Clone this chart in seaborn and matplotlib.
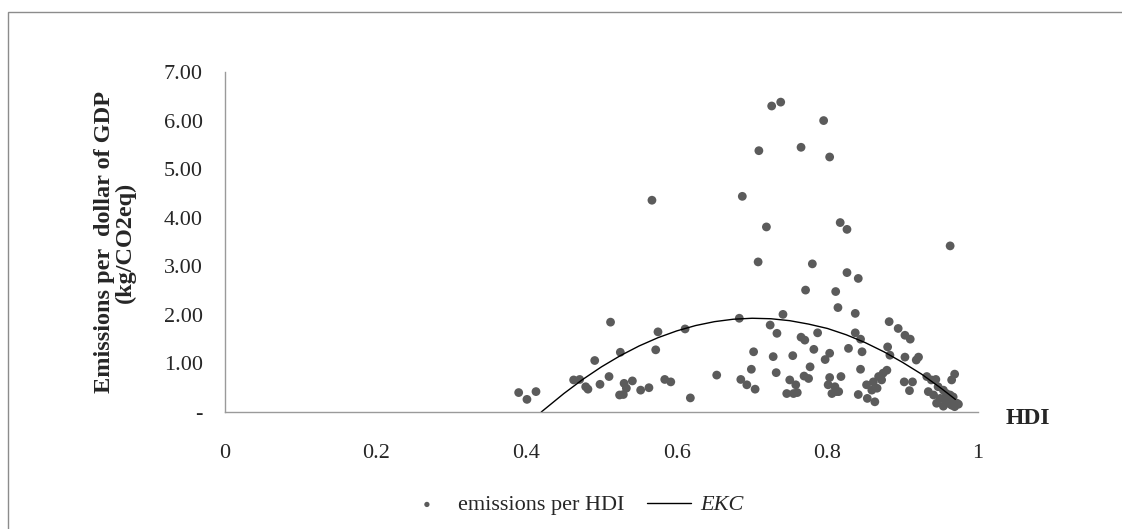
import matplotlib
matplotlib.use("Agg")
import matplotlib.pyplot as plt
from matplotlib.patches import Rectangle
import pandas as pd
import seaborn as sns

# --- data ---
hdi = [0.390, 0.401, 0.413, 0.463, 0.471, 0.479, 0.482, 0.491, 0.498, 0.510,
       0.512, 0.524, 0.525, 0.529, 0.530, 0.533, 0.541, 0.552, 0.563, 0.567,
       0.572, 0.575, 0.584, 0.592, 0.611, 0.618, 0.653, 0.683, 0.685, 0.687,
       0.693, 0.699, 0.702, 0.704, 0.708, 0.709, 0.719, 0.724, 0.726, 0.728,
       0.732, 0.733, 0.738, 0.741, 0.746, 0.750, 0.754, 0.755, 0.758, 0.760,
       0.765, 0.765, 0.769, 0.770, 0.771, 0.775, 0.777, 0.780, 0.782, 0.787,
       0.795, 0.797, 0.801, 0.803, 0.803, 0.803, 0.806, 0.810, 0.812, 0.811,
       0.814, 0.815, 0.817, 0.818, 0.826, 0.826, 0.828, 0.837, 0.837, 0.841,
       0.841, 0.844, 0.844, 0.846, 0.852, 0.853, 0.859, 0.861, 0.863, 0.866,
       0.868, 0.872, 0.874, 0.879, 0.880, 0.882, 0.883, 0.894, 0.902, 0.903,
       0.903, 0.909, 0.910, 0.913, 0.918, 0.921, 0.932, 0.934, 0.938, 0.941,
       0.944, 0.945, 0.947, 0.950, 0.954, 0.954, 0.956, 0.958, 0.961, 0.963,
       0.963, 0.965, 0.965, 0.967, 0.969, 0.969, 0.972, 0.974]
emissions = [0.40, 0.26, 0.42, 0.66, 0.67, 0.52, 0.47, 1.06, 0.57, 0.73,
             1.85, 0.35, 1.23, 0.36, 0.59, 0.49, 0.64, 0.45, 0.50, 4.36,
             1.28, 1.65, 0.67, 0.62, 1.71, 0.29, 0.76, 1.93, 0.67, 4.44,
             0.56, 0.88, 1.24, 0.47, 3.09, 5.38, 3.81, 1.79, 6.30, 1.14,
             0.81, 1.62, 6.38, 2.01, 0.38, 0.66, 1.16, 0.38, 0.56, 0.40,
             5.45, 1.54, 0.74, 1.48, 2.51, 0.69, 0.93, 3.05, 1.29, 1.63,
             6.00, 1.08, 0.56, 5.25, 1.21, 0.71, 0.38, 0.52, 0.42, 2.48,
             2.15, 0.42, 3.90, 0.73, 3.76, 2.87, 1.31, 2.03, 1.63, 2.75,
             0.36, 1.50, 0.88, 1.24, 0.56, 0.28, 0.45, 0.62, 0.21, 0.49,
             0.73, 0.66, 0.80, 0.86, 1.34, 1.86, 1.17, 1.72, 0.62, 1.58,
             1.13, 0.44, 1.50, 0.62, 1.07, 1.13, 0.73, 0.42, 0.66, 0.35,
             0.67, 0.18, 0.52, 0.28, 0.45, 0.12, 0.25, 0.38, 0.18, 0.35,
             3.42, 0.66, 0.14, 0.31, 0.78, 0.11, 0.18, 0.16]

ekc_hdi = [0.42, 0.45, 0.475, 0.50, 0.525, 0.55, 0.575, 0.60, 0.625, 0.65, 0.675, 0.70,
           0.725, 0.75, 0.775, 0.80, 0.825, 0.85, 0.875, 0.90, 0.925, 0.95, 0.97]
ekc_val = [0.00, 0.38, 0.67, 0.93, 1.16, 1.36, 1.53, 1.67, 1.78, 1.86, 1.91, 1.93,
           1.92, 1.88, 1.81, 1.72, 1.59, 1.43, 1.24, 1.02, 0.78, 0.50, 0.26]

y_ticks = [0, 1, 2, 3, 4, 5, 6, 7]
y_labels = ['-', '1.00', '2.00', '3.00', '4.00', '5.00', '6.00', '7.00']
x_ticks = [0, 0.2, 0.4, 0.6, 0.8, 1.0]
x_labels = ['0', '0.2', '0.4', '0.6', '0.8', '1']

points = pd.DataFrame({'HDI': hdi, 'emissions': emissions})
curve = pd.DataFrame({'HDI': ekc_hdi, 'EKC': ekc_val})

sns.set_style('white')
plt.rcParams['font.family'] = ['Liberation Serif', 'DejaVu Serif']

fig = plt.figure(figsize=(11.22, 5.29), dpi=100)
ax = fig.add_axes([225 / 1122, 1 - 412 / 529, (978 - 225) / 1122, (412 - 72) / 529])

sns.scatterplot(data=points, x='HDI', y='emissions', ax=ax, color='#5b5b5b',
                s=40, edgecolor='none', label='emissions per HDI')
sns.lineplot(data=curve, x='HDI', y='EKC', ax=ax, sort=False, color='black',
             linewidth=1.0, label='EKC')

ax.set_xlim(0, 1)
ax.set_ylim(0, 7)
ax.set_xticks(x_ticks)
ax.set_xticklabels(x_labels)
ax.set_yticks(y_ticks)
ax.set_yticklabels(y_labels)
ax.tick_params(axis='both', length=0, labelsize=16)
ax.tick_params(axis='x', pad=23)
ax.tick_params(axis='y', pad=16)

for side in ['top', 'right']:
    ax.spines[side].set_visible(False)
for side in ['left', 'bottom']:
    ax.spines[side].set_color('#9a9a9a')
    ax.spines[side].set_linewidth(1.0)

ax.set_xlabel('')
ax.set_ylabel('Emissions per  dollar of GDP\n(kg/CO2eq)', fontsize=17.5,
              fontweight='bold', labelpad=20, linespacing=1.0)
fig.text(1028 / 1122, 1 - 418 / 529, 'HDI', fontsize=17, fontweight='bold',
         ha='center', va='center')

leg = ax.legend(loc='center', bbox_to_anchor=(574 / 1122, 1 - 505 / 529),
                bbox_transform=fig.transFigure, ncol=2, frameon=False,
                fontsize=16, markerscale=0.6, handlelength=2.0,
                columnspacing=1.0, handletextpad=0.4)
leg.get_texts()[1].set_fontstyle('italic')

# outer chart border (cropped on the right and bottom in the reference)
fig.patches.append(Rectangle((8 / 1122, -0.02), 1.0, 1 - 12 / 529 + 0.02,
                             transform=fig.transFigure, fill=False,
                             edgecolor='#8c8c8c', linewidth=1.0))

fig.savefig('out.png', dpi=100)
plt.close(fig)
